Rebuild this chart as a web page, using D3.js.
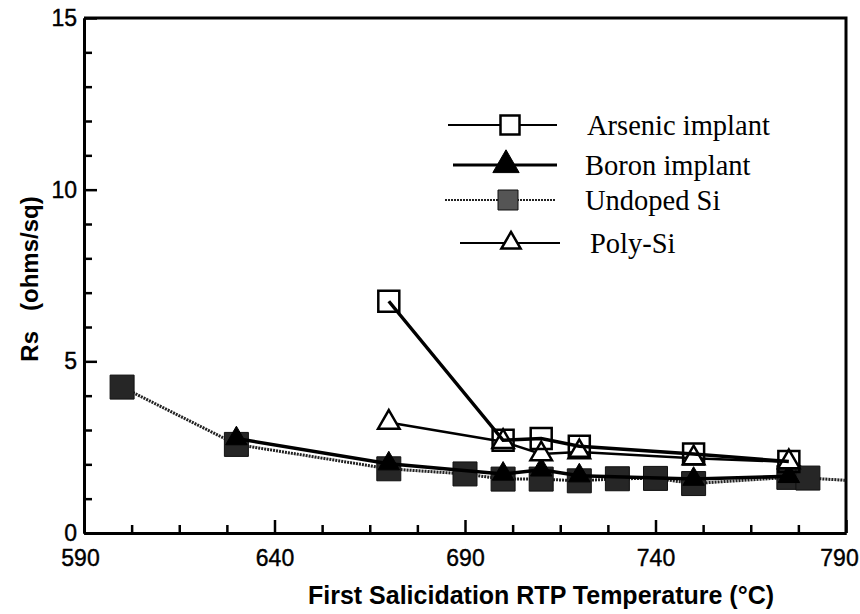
<!DOCTYPE html>
<html>
<head>
<meta charset="utf-8">
<script src="https://cdn.jsdelivr.net/npm/d3@7"></script>
<style>
  body { margin: 0; background: #fff; }
  svg { display: block; }
  .tick text { font-family: "Liberation Sans", Arial, sans-serif; }
</style>
</head>
<body>
<div id="chart"></div>
<script>
// values
var arsenicT = [670, 700, 710, 720, 750, 775];
var arsenicRs = [6.75, 2.7, 2.75, 2.53, 2.3, 2.08];

var boronT = [630, 670, 700, 710, 720, 750, 775];
var boronRs = [2.75, 2.02, 1.72, 1.84, 1.67, 1.57, 1.65];

var undopedT = [600, 630, 670, 690, 700, 710, 720, 730, 740, 750, 775, 780, 800];
var undopedRs = [4.25, 2.58, 1.87, 1.72, 1.57, 1.57, 1.52, 1.58, 1.59, 1.44, 1.62, 1.6, 1.47];

var polyT = [670, 700, 710, 720, 750, 775];
var polyRs = [3.22, 2.66, 2.3, 2.36, 2.18, 2.07];

var legendNames = ["Arsenic implant", "Boron implant", "Undoped Si", "Poly-Si"];
var xMajor = [590, 640, 690, 740, 790];
var yMajor = [0, 5, 10, 15];

var w = 860, h = 614;
var mLeft = 84, mRight = 846, mTop = 18, mBottom = 533;

var svg = d3.select("#chart").append("svg")
    .attr("width", w)
    .attr("height", h);

var x = d3.scaleLinear().domain([590, 790]).range([mLeft, mRight]);
var y = d3.scaleLinear().domain([0, 15]).range([mBottom, mTop]);

svg.append("clipPath").attr("id", "plot-clip")
   .append("rect")
   .attr("x", mLeft).attr("y", mTop)
   .attr("width", mRight - mLeft).attr("height", mBottom - mTop);

// frame: top and right lines
svg.append("path")
   .attr("d", "M" + mLeft + "," + mTop + "H" + mRight + "V" + mBottom)
   .attr("fill", "none")
   .attr("stroke", "#000")
   .attr("stroke-width", 3);

// minor ticks, every 12.5 on x and every 1 on y
var xMinor = d3.range(590, 790.1, 12.5).filter(d => xMajor.indexOf(d) < 0);
var yMinor = d3.range(0, 15.1, 1).filter(d => yMajor.indexOf(d) < 0);

var xAxis = svg.append("g")
    .attr("transform", "translate(0," + mBottom + ")")
    .call(d3.axisBottom(x).tickValues(xMajor).tickSizeInner(-13).tickSizeOuter(0).tickPadding(17).tickFormat(d3.format("d")));
var xAxisMinor = svg.append("g")
    .attr("transform", "translate(0," + mBottom + ")")
    .call(d3.axisBottom(x).tickValues(xMinor).tickSizeInner(-8).tickSizeOuter(0).tickFormat(""));

var yAxis = svg.append("g")
    .attr("transform", "translate(" + mLeft + ",0)")
    .call(d3.axisLeft(y).tickValues(yMajor).tickSizeInner(-13).tickSizeOuter(0).tickPadding(7).tickFormat(d3.format("d")));
var yAxisMinor = svg.append("g")
    .attr("transform", "translate(" + mLeft + ",0)")
    .call(d3.axisLeft(y).tickValues(yMinor).tickSizeInner(-8).tickSizeOuter(0).tickFormat(""));

[xAxis, xAxisMinor, yAxis, yAxisMinor].forEach(function(g) {
    g.select(".domain").attr("stroke-width", 3);
    g.selectAll(".tick line").attr("stroke-width", 2.5);
    g.selectAll(".tick text")
     .attr("font-size", 23)
     .attr("fill", "#000")
     .attr("stroke", "#000")
     .attr("stroke-width", 0.4);
});
// first and last x labels sit a little inside, as in the print
xAxis.selectAll(".tick text").attr("dx", d => d == 590 ? -4 : (d == 790 ? -7 : 0));

// axis titles
svg.append("text")
   .attr("x", 541)
   .attr("y", 604)
   .attr("text-anchor", "middle")
   .attr("font-family", "Liberation Sans, Arial, sans-serif")
   .attr("font-weight", "bold")
   .attr("font-size", 25)
   .text("First Salicidation RTP Temperature (\u00B0C)");

svg.append("text")
   .attr("transform", "translate(38,279) rotate(-90)")
   .attr("text-anchor", "middle")
   .attr("font-family", "Liberation Sans, Arial, sans-serif")
   .attr("font-weight", "bold")
   .attr("font-size", 24)
   .style("white-space", "pre")
   .text("Rs   (ohms/sq)");

// marker shapes
var sqOpen = d3.symbol().type(d3.symbolSquare).size(21 * 21);
var sqFill = d3.symbol().type(d3.symbolSquare).size(24 * 24);
var tri = d3.symbol().type(d3.symbolTriangle).size(200);

function zip(ts, vs) {
    return ts.map((t, i) => ({t: t, v: vs[i]}));
}

var line = d3.line().x(d => x(d.t)).y(d => y(d.v));
var plot = svg.append("g").attr("clip-path", "url(#plot-clip)");

function drawSeries(data, lineStyle, markerPath, markerStyle) {
    var path = plot.append("path")
        .datum(data)
        .attr("d", line)
        .attr("fill", "none")
        .attr("stroke", lineStyle.color)
        .attr("stroke-width", lineStyle.width);
    if (lineStyle.dash) path.attr("stroke-dasharray", lineStyle.dash);

    plot.selectAll(null)
        .data(data)
        .enter()
        .append("path")
        .attr("d", markerPath)
        .attr("transform", d => "translate(" + x(d.t) + "," + y(d.v) + ")")
        .attr("fill", markerStyle.fill)
        .attr("stroke", markerStyle.stroke)
        .attr("stroke-width", markerStyle.width);
}

var styles = [
    {line: {color: "#000", width: 3.5}, marker: sqOpen, m: {fill: "none", stroke: "#000", width: 2.5}},
    {line: {color: "#000", width: 3.5}, marker: tri, m: {fill: "#000", stroke: "#000", width: 1}},
    {line: {color: "#222", width: 3, dash: "2,1"}, marker: sqFill, m: {fill: "#262626", stroke: "#111", width: 1}},
    {line: {color: "#000", width: 2.5}, marker: tri, m: {fill: "#fff", stroke: "#000", width: 2.5}}
];

drawSeries(zip(undopedT, undopedRs), styles[2].line, styles[2].marker, styles[2].m);
drawSeries(zip(boronT, boronRs), styles[1].line, styles[1].marker, styles[1].m);
drawSeries(zip(polyT, polyRs), styles[3].line, styles[3].marker, styles[3].m);
drawSeries(zip(arsenicT, arsenicRs), styles[0].line, styles[0].marker, styles[0].m);

// legend
var legendRows = [
    {y: 125, x1: 448, x2: 557, mx: 510, tx: 587},
    {y: 165, x1: 453, x2: 557, mx: 506, tx: 585},
    {y: 200, x1: 445, x2: 555, mx: 508, tx: 585},
    {y: 243, x1: 460, x2: 560, mx: 511, tx: 590}
];
var legendMarkers = [
    d3.symbol().type(d3.symbolSquare).size(19 * 19),
    d3.symbol().type(d3.symbolTriangle).size(300),
    d3.symbol().type(d3.symbolSquare).size(20 * 20),
    d3.symbol().type(d3.symbolTriangle).size(160)
];
var legendLineW = [2, 3, 2, 2];

var legend = svg.append("g");
legendNames.forEach(function(name, i) {
    var r = legendRows[i];
    var s = styles[i];
    var ln = legend.append("line")
        .attr("x1", r.x1).attr("x2", r.x2)
        .attr("y1", r.y).attr("y2", r.y)
        .attr("stroke", s.line.color)
        .attr("stroke-width", legendLineW[i]);
    if (s.line.dash) ln.attr("stroke-dasharray", s.line.dash);
    legend.append("path")
        .attr("d", legendMarkers[i]())
        .attr("transform", "translate(" + r.mx + "," + r.y + ")")
        .attr("fill", i == 0 ? "#fff" : (i == 2 ? "#555" : s.m.fill))
        .attr("stroke", s.m.stroke)
        .attr("stroke-width", s.m.width);
    legend.append("text")
        .attr("x", r.tx)
        .attr("y", r.y + 10)
        .attr("font-family", "Liberation Serif, Times New Roman, serif")
        .attr("font-size", 28.5)
        .text(name);
});
</script>
</body>
</html>
